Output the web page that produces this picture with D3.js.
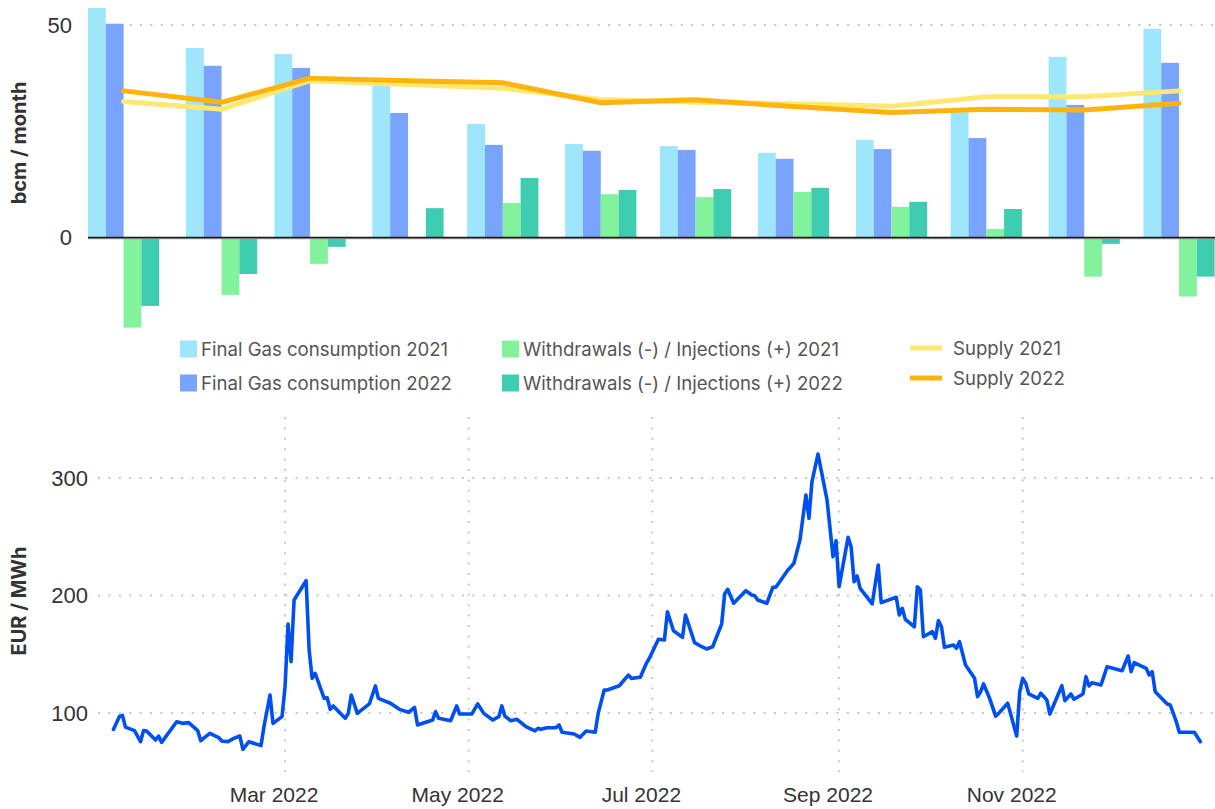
<!DOCTYPE html>
<html>
<head>
  <style>
    body{
      margin:0;
      background:#fff;
      font-family: Inter, "Noto Sans", sans-serif;
    }
    .tick-label{
      fill:#333;
      font-size:22px;
    }
    .axis-title{
      fill:#333;
      font-size:20px;
      font-weight:bold;
    }
    .legend-label{
      fill:#555;
      font-size:18.6px;
    }
    .grid{
      stroke:#c6c6c6;
      stroke-width:2;
      stroke-dasharray:2,8.4;
    }
  </style>
  <script src="https://d3js.org/d3.v7.min.js"></script>
</head>
<body>
<div class="chart-container"></div>
<script>
// monthly balance, bcm / month
const months = ['2022-01-01','2022-02-01','2022-03-01','2022-04-01','2022-05-01','2022-06-01',
  '2022-07-01','2022-08-01','2022-09-01','2022-10-01','2022-11-01','2022-12-01'];
const consumption2021 = [54.0, 44.6, 43.2, 35.8, 26.7, 22.0, 21.5, 19.9, 23.0, 29.5, 42.5, 49.1];
const consumption2022 = [50.3, 40.4, 39.9, 29.3, 21.8, 20.4, 20.6, 18.5, 20.8, 23.4, 31.2, 41.1];
const storage2021 = [-21.2, -13.5, -6.2, -0.3, 8.1, 10.2, 9.5, 10.7, 7.2, 2.0, -9.2, -13.9];
const storage2022 = [-16.1, -8.6, -2.2, 6.9, 14.0, 11.2, 11.4, 11.7, 8.4, 6.7, -1.5, -9.2];
const supply2021 = [32.0, 30.2, 36.9, 36.0, 35.1, 32.5, 31.8, 31.5, 30.9, 33.1, 33.1, 34.5];
const supply2022 = [34.5, 31.8, 37.5, 36.9, 36.4, 31.7, 32.4, 30.8, 29.4, 30.2, 30.0, 31.6];
const balanceTicks = [0, 50];

// TTF day-ahead price, EUR / MWh (2022)
const priceDates = ['01-03','01-05','01-06','01-07','01-10','01-12','01-13','01-14','01-17','01-18','01-19','01-24',
  '01-26','01-28','01-31','02-01','02-04','02-07','02-08','02-10','02-12','02-14','02-15','02-17','02-21','02-22',
  '02-24','02-25','02-28','03-01','03-02','03-03','03-04','03-08','03-09','03-10','03-11','03-14','03-15','03-16',
  '03-17','03-21','03-22','03-23','03-25','03-29','03-31','04-01','04-05','04-08','04-11','04-13','04-14','04-19',
  '04-20','04-21','04-25','04-27','04-28','05-02','05-04','05-06','05-09','05-11','05-12','05-13','05-15','05-17',
  '05-20','05-23','05-24','05-25','05-27','05-30','05-31','06-01','06-05','06-07','06-09','06-12','06-13','06-15',
  '06-16','06-20','06-23','06-24','06-27','06-29','06-30','07-03','07-05','07-06','07-08','07-11','07-12','07-15',
  '07-17','07-19','07-21','07-24','07-25','07-26','07-28','08-01','08-03','08-04','08-05','08-08','08-10','08-11',
  '08-15','08-16','08-17','08-19','08-21','08-22','08-23','08-25','08-28','08-30','08-31','09-01','09-04','09-05',
  '09-06','09-07','09-08','09-12','09-14','09-15','09-20','09-21','09-22','09-23','09-26','09-27','09-28','09-29',
  '10-02','10-03','10-04','10-05','10-06','10-09','10-10','10-11','10-13','10-16','10-17','10-18','10-19','10-21',
  '10-23','10-24','10-27','10-30','10-31','11-01','11-02','11-03','11-06','11-07','11-09','11-10','11-14','11-15',
  '11-17','11-18','11-21','11-22','11-23','11-24','11-27','11-29','12-04','12-06','12-07','12-08','12-12','12-13',
  '12-14','12-15','12-19','12-20','12-22','12-23','12-28','12-30'];
const priceValues = [86,97,98,88,85,75.6,85,84.7,77,80.4,75,92.6,
  91.2,91.8,85,76.4,82.7,79,76.2,75.6,78.4,80.4,69.1,75.6,72.2,88.4,
  115.3,91.2,96.9,122.4,175.7,143.7,196.2,212.6,153.6,129.5,133.8,112.5,113,103.1,
  106,95.5,99.7,115.3,99.7,107.7,123,112.5,108.3,103.1,100.6,104.8,89.8,94,
  101.1,95.5,93.4,106,99.1,99.1,107.7,99.7,94,96.9,106,97.4,93.4,94.6,
  88.4,84.7,87,86.1,87.5,87.5,89.8,83.6,82.1,79.3,84.7,83.6,99.7,119.6,
  119.6,123.2,132.3,129.5,130.4,142.3,146.6,162.7,162.1,186.2,170,164.4,183.4,159.9,
  157,154.5,156.4,175.7,201.3,205.3,193.4,204.1,200.4,199.8,196.2,193.4,207,207,
  221.7,224.5,227.4,247.2,285.5,265.7,296.9,320.4,281.3,233,246.6,207.5,249.5,241.5,
  211.7,216.6,206.1,192.8,226,193.9,198.5,183.4,189.1,179.7,173.4,207.5,204.7,164.9,
  169.2,163.6,178.6,173.4,155.9,157.9,155.1,160.7,140.9,129.5,113.9,118.1,124.7,112.5,
  97.4,99.7,108.3,80.4,118.1,129.5,125.3,116.2,112.5,116.8,111.1,99.1,123.2,110.5,
  116.2,111.7,116.2,130.9,123,125.8,123.8,139.4,136,148.5,135.1,142.8,138,132.3,
  135.1,118.1,107.7,106.8,92.6,83.6,83.6,75.6];
const priceTicks = ['2022-03-01','2022-05-01','2022-07-01','2022-09-01','2022-11-01'];
const priceGrid = [100, 200, 300];

const barSeries = [
  {key:'c21', label:'Final Gas consumption 2021', color:'#9de6fc', values:consumption2021},
  {key:'c22', label:'Final Gas consumption 2022', color:'#78a4fd', values:consumption2022},
  {key:'s21', label:'Withdrawals (-) / Injections (+) 2021', color:'#82f39c', values:storage2021},
  {key:'s22', label:'Withdrawals (-) / Injections (+) 2022', color:'#3ecdb0', values:storage2022}
];
const lineSeries = [
  {label:'Supply 2021', color:'#ffe872', values:supply2021},
  {label:'Supply 2022', color:'#ffb30f', values:supply2022}
];

window.onload = ()=>{
  const width = 1215;
  const height = 809;
  const parse = d3.utcParse('%Y-%m-%d');

  const svg = d3.select('.chart-container')
    .append('svg')
    .attr('width', width)
    .attr('height', height);

  // ---------- top: monthly balance ----------
  const xTop = d3.scaleUtc()
    .domain([parse('2022-01-01'), parse('2023-01-01')])
    .range([88, 1241.4]);
  const yTop = d3.scaleLinear()
    .domain([-22, 55])
    .range([331, 3.75]);
  const xSub = d3.scaleBand()
    .domain(barSeries.map(d=>d.key))
    .range([0, 71.2]);

  const top = svg.append('g');

  top.append('line')
    .attr('class', 'grid')
    .attr('x1', 88).attr('x2', width)
    .attr('y1', yTop(50)).attr('y2', yTop(50));

  barSeries.forEach(s=>{
    top.append('g')
      .selectAll('rect')
      .data(months)
      .join('rect')
      .attr('x', (m)=>xTop(parse(m)) + xSub(s.key))
      .attr('width', xSub.bandwidth())
      .attr('y', (m,i)=>yTop(Math.max(0, s.values[i])))
      .attr('height', (m,i)=>Math.abs(yTop(s.values[i]) - yTop(0)))
      .attr('fill', s.color);
  });

  top.append('line')
    .attr('x1', 88).attr('x2', width)
    .attr('y1', yTop(0)+1.2).attr('y2', yTop(0)+1.2)
    .attr('stroke', '#999').attr('stroke-width', 1.2);
  top.append('line')
    .attr('x1', 88).attr('x2', width)
    .attr('y1', yTop(0)).attr('y2', yTop(0))
    .attr('stroke', '#1a1a1a').attr('stroke-width', 1.5);

  const supplyLine = d3.line()
    .x((d,i)=>xTop(parse(months[i])) + 35.6)
    .y(d=>yTop(d));

  lineSeries.forEach(s=>{
    top.append('path')
      .datum(s.values)
      .attr('d', supplyLine)
      .attr('fill', 'none')
      .attr('stroke', s.color)
      .attr('stroke-width', 5)
      .attr('stroke-linejoin', 'round')
      .attr('stroke-linecap', 'round');
  });

  const yTopAxis = top.append('g')
    .attr('transform', 'translate(72,0)')
    .call(d3.axisLeft(yTop).tickValues(balanceTicks).tickSize(0).tickPadding(0));
  yTopAxis.select('.domain').remove();
  yTopAxis.selectAll('text')
    .attr('class', 'tick-label')
    .attr('font-family', null).attr('font-size', null).attr('fill', null);

  top.append('text')
    .attr('class', 'axis-title')
    .attr('transform', 'translate(26,143) rotate(-90)')
    .attr('text-anchor', 'middle')
    .text('bcm / month');

  // ---------- legend ----------
  const legend = svg.append('g');
  const squarePos = [[180, 340.5], [180, 374.5], [502, 340.5], [502, 374.5]];
  barSeries.forEach((s,i)=>{
    const [lx, ly] = squarePos[i];
    legend.append('rect')
      .attr('x', lx).attr('y', ly)
      .attr('width', 17).attr('height', 17)
      .attr('fill', s.color);
    legend.append('text')
      .attr('class', 'legend-label')
      .attr('x', lx + 21).attr('y', ly + 15)
      .text(s.label);
  });
  const linePos = [348, 378];
  lineSeries.forEach((s,i)=>{
    legend.append('line')
      .attr('x1', 910).attr('x2', 942)
      .attr('y1', linePos[i]).attr('y2', linePos[i])
      .attr('stroke', s.color).attr('stroke-width', 5);
    legend.append('text')
      .attr('class', 'legend-label')
      .attr('x', 953).attr('y', linePos[i] + 7)
      .text(s.label);
  });

  // ---------- bottom: price ----------
  const prices = priceDates.map((d,i)=>({date: parse('2022-' + d), value: priceValues[i]}));

  const xBot = d3.scaleUtc()
    .domain([parse('2022-01-01'), parse('2023-01-01')])
    .range([107.4, 1206.4]);
  const yBot = d3.scaleLinear()
    .domain([50, 350])
    .range([771.75, 419.25]);

  const bottom = svg.append('g');

  bottom.append('g')
    .selectAll('line')
    .data(priceGrid)
    .join('line')
    .attr('class', 'grid')
    .attr('x1', 98).attr('x2', width)
    .attr('y1', d=>yBot(d)).attr('y2', d=>yBot(d));

  bottom.append('g')
    .selectAll('line')
    .data(priceTicks)
    .join('line')
    .attr('class', 'grid')
    .attr('x1', d=>xBot(parse(d))).attr('x2', d=>xBot(parse(d)))
    .attr('y1', 417).attr('y2', 772);

  bottom.append('path')
    .datum(prices)
    .attr('d', d3.line().x(d=>xBot(d.date)).y(d=>yBot(d.value)))
    .attr('fill', 'none')
    .attr('stroke', '#0050f0')
    .attr('stroke-width', 3.6)
    .attr('stroke-linejoin', 'round')
    .attr('stroke-linecap', 'round');

  const yBotAxis = bottom.append('g')
    .attr('transform', 'translate(88,0)')
    .call(d3.axisLeft(yBot).tickValues(priceGrid).tickSize(0).tickPadding(0));
  yBotAxis.select('.domain').remove();
  yBotAxis.selectAll('text')
    .attr('class', 'tick-label')
    .attr('font-family', null).attr('font-size', null).attr('fill', null);

  // month labels sit a little left of their gridline; kept just inside the bottom edge
  const xBotAxis = bottom.append('g')
    .attr('transform', 'translate(-11.5,802)')
    .call(d3.axisBottom(xBot)
      .tickValues(priceTicks.map(parse))
      .tickFormat(d3.utcFormat('%b %Y'))
      .tickSize(0));
  xBotAxis.select('.domain').remove();
  xBotAxis.selectAll('text')
    .attr('class', 'tick-label')
    .attr('y', 0).attr('dy', 0)
    .attr('font-family', null).attr('font-size', null).attr('fill', null)
    .style('font-size', '21px');

  bottom.append('text')
    .attr('class', 'axis-title')
    .attr('transform', 'translate(26,601) rotate(-90)')
    .attr('text-anchor', 'middle')
    .text('EUR / MWh');
};
</script>
</body>
</html>
